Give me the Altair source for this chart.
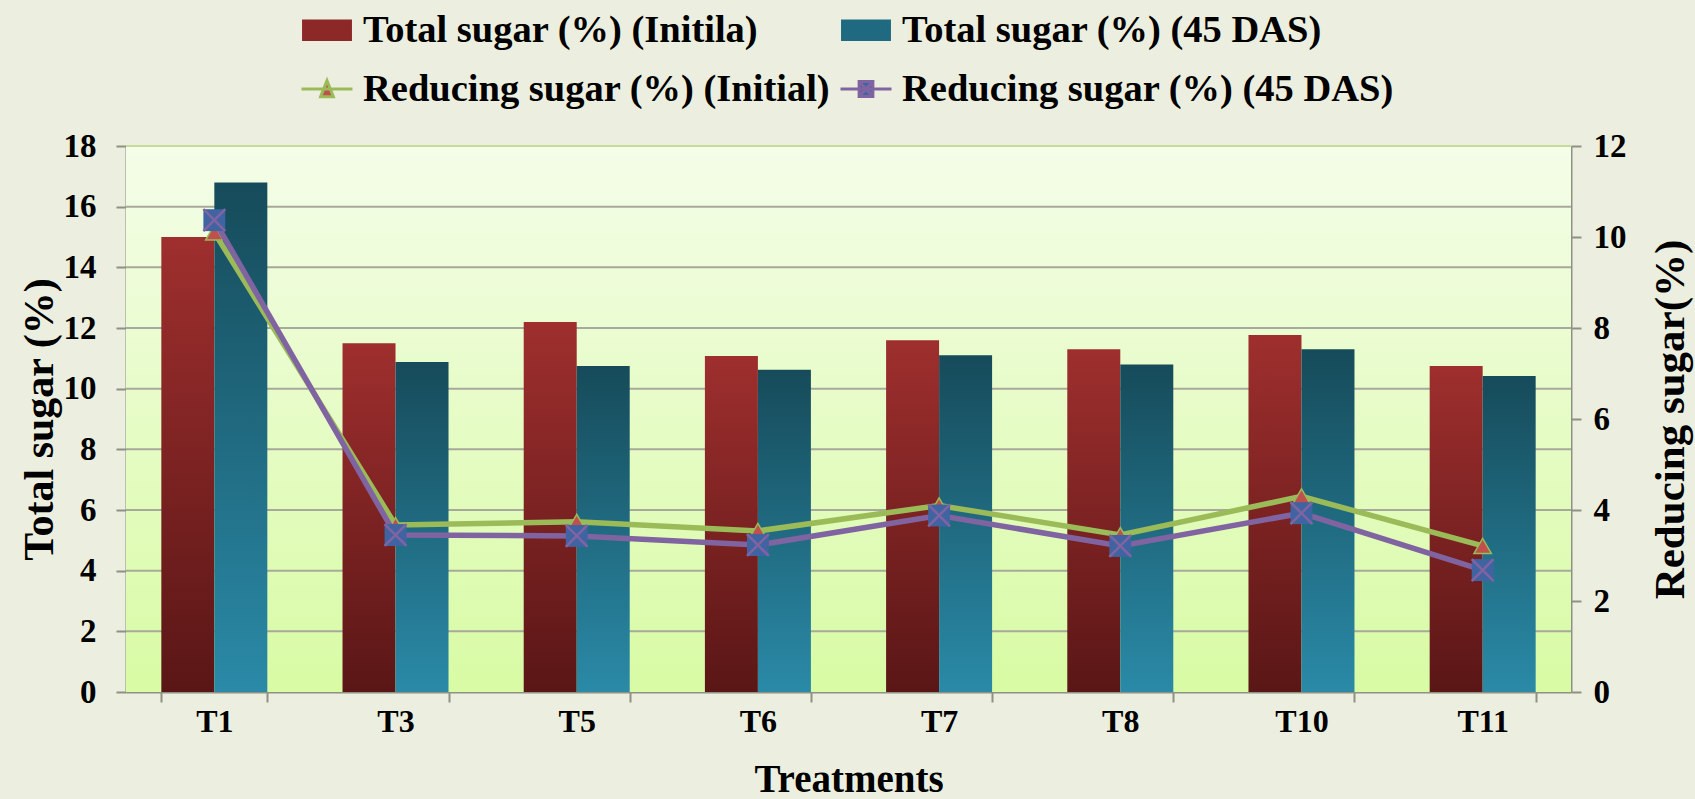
import altair as alt
import pandas as pd

# ---- data -------------------------------------------------------------
treatments = ["T1", "T3", "T5", "T6", "T7", "T8", "T10", "T11"]
total_initial = [15.0, 11.5, 12.2, 11.08, 11.6, 11.3, 11.77, 10.75]
total_45das = [16.8, 10.88, 10.75, 10.62, 11.1, 10.8, 11.3, 10.42]
reducing_initial = [10.1, 3.67, 3.74, 3.54, 4.1, 3.45, 4.3, 3.21]
reducing_45das = [10.37, 3.45, 3.43, 3.23, 3.88, 3.21, 3.93, 2.68]

total_names = ["Total sugar (%) (Initila)", "Total sugar (%) (45 DAS)"]
reducing_names = ["Reducing sugar (%) (Initial)", "Reducing sugar (%) (45 DAS)"]
# legend entries fill the two-column grid column by column
legend_order = [total_names[0], reducing_names[0], total_names[1], reducing_names[1]]
left_ticks = list(range(0, 19, 2))
right_ticks = list(range(0, 13, 2))

# ---- styling ----------------------------------------------------------
W, H = 1445, 546
FONT = "Liberation Serif"
AXIS_GREY = "#8E9183"
GRID_GREY = "#A7A99C"
GREEN = "#9BBB59"
PURPLE = "#8064A2"
TRI_RED = "#C0504D"
SQ_BLUE = "#4064A2"

red_grad = alt.Gradient(gradient="linear", x1=0, x2=0, y1=0, y2=1,
                        stops=[alt.GradientStop(offset=0, color="#9E2F2E"),
                               alt.GradientStop(offset=1, color="#5A1616")])
teal_grad = alt.Gradient(gradient="linear", x1=0, x2=0, y1=0, y2=1,
                         stops=[alt.GradientStop(offset=0, color="#164B5A"),
                                alt.GradientStop(offset=1, color="#2A8AA7")])
plot_grad = alt.Gradient(gradient="linear", x1=0, x2=0, y1=0, y2=1,
                         stops=[alt.GradientStop(offset=0, color="#F4FDE8"),
                                alt.GradientStop(offset=1, color="#D8FBA4")])

BAR_KEY = "M-0.92,-0.36H0.92V0.36H-0.92Z"
TRI_KEY = "M-1,0H1M-0.25,0.3L0,-0.33L0.25,0.3Z"
SQX_KEY = "M-1,0H1M-0.27,-0.29H0.27V0.29H-0.27ZM-0.27,-0.29L0.27,0.29M0.27,-0.29L-0.27,0.29"
legend_shapes = [BAR_KEY, TRI_KEY, BAR_KEY, SQX_KEY]
legend_fills = ["#8C2828", TRI_RED, "#1F6A80", SQ_BLUE]
legend_strokes = ["#8C2828", GREEN, "#1F6A80", PURPLE]

# ---- tables -----------------------------------------------------------
n = len(treatments)
bars_df = pd.DataFrame({
    "Treatment": treatments * 2,
    "Series": [total_names[0]] * n + [total_names[1]] * n,
    "Value": total_initial + total_45das,
})
reducing_df = pd.DataFrame({
    "Treatment": treatments * 2,
    "Series": [reducing_names[0]] * n + [reducing_names[1]] * n,
    "Value": reducing_initial + reducing_45das,
})
grid_df = pd.DataFrame({"Value": left_ticks[1:-1]})
top_df = pd.DataFrame({"Value": [left_ticks[-1]]})
legend_df = pd.DataFrame({"Series": legend_order})
bg_df = pd.DataFrame({"a": [0]})

# ---- axes -------------------------------------------------------------
axis_style = dict(
    domainColor=AXIS_GREY, domainWidth=2, tickColor=AXIS_GREY, tickWidth=2,
    tickSize=10, labelFont=FONT, labelFontWeight="bold",
    labelColor="black", titleFont=FONT, titleFontWeight="bold",
    titleColor="black", grid=False,
)
left_axis = alt.Axis(values=left_ticks, title="Total sugar (%)", orient="left",
                     labelFontSize=33, titleFontSize=42,
                     labelPadding=20, titlePadding=2, **axis_style)
right_axis = alt.Axis(values=right_ticks, title="Reducing sugar(%)", orient="right",
                      labelFontSize=33, titleFontSize=43, titleAngle=270,
                      labelPadding=12, titlePadding=66, **axis_style)
x_axis = alt.Axis(title="Treatments", labelAngle=0, tickBand="extent",
                  labelFontSize=32, titleFontSize=39,
                  labelPadding=4, titlePadding=23, **axis_style)

x_enc = alt.X("Treatment:N", sort=treatments,
              scale=alt.Scale(paddingInner=0.415, paddingOuter=0.195),
              axis=x_axis)
y_left = alt.Y("Value:Q", scale=alt.Scale(domain=[0, 18], nice=False), axis=left_axis)
y_right = alt.Y("Value:Q", scale=alt.Scale(domain=[0, 12], nice=False), axis=right_axis)

legend = alt.Legend(
    title=None, orient="none", legendX=174, legendY=-143, columns=2,
    symbolSize=2601, symbolStrokeWidth=3, symbolOpacity=1,
    labelFont=FONT, labelFontSize=38.5, labelFontWeight="bold", labelColor="black",
    labelOffset=9, labelLimit=2000, rowPadding=12, columnPadding=3, padding=0,
)

# ---- left-axis group: plot background, grid, bars, legend ------------
background = alt.Chart(bg_df).mark_rect(fill=plot_grad).encode(
    x=alt.value(0), x2=alt.value(W), y=alt.value(0), y2=alt.value(H)
)
grid = alt.Chart(grid_df).mark_rule(color=GRID_GREY, strokeWidth=2).encode(y=y_left)
top_edge = alt.Chart(top_df).mark_rule(color="#C6DA9E", strokeWidth=2).encode(y=y_left)

bars = alt.Chart(bars_df).mark_bar(strokeWidth=0).encode(
    x=x_enc,
    xOffset=alt.XOffset("Series:N", sort=total_names,
                        scale=alt.Scale(paddingInner=0, paddingOuter=0)),
    y=y_left,
    fill=alt.condition(alt.datum.Series == total_names[0],
                       alt.value(red_grad), alt.value(teal_grad)),
)

legend_keys = alt.Chart(legend_df).mark_point(opacity=0, filled=True).encode(
    shape=alt.Shape("Series:N", scale=alt.Scale(domain=legend_order, range=legend_shapes), legend=legend),
    fill=alt.Fill("Series:N", scale=alt.Scale(domain=legend_order, range=legend_fills), legend=legend),
    stroke=alt.Stroke("Series:N", scale=alt.Scale(domain=legend_order, range=legend_strokes), legend=legend),
)

left = alt.layer(background, grid, top_edge, bars, legend_keys)

# ---- right-axis group: reducing sugar lines and markers ---------------
base = alt.Chart(reducing_df)
x_line = alt.X("Treatment:N", sort=treatments)
initial = base.transform_filter(alt.datum.Series == reducing_names[0])
later = base.transform_filter(alt.datum.Series == reducing_names[1])

line_initial = initial.mark_line(color=GREEN, strokeWidth=5.5).encode(x=x_line, y=y_right)
tri_initial = initial.mark_point(
    shape="triangle-up", filled=True, fill=TRI_RED, stroke=GREEN, strokeWidth=1.5,
    size=300, opacity=1).encode(x=x_line, y=y_right)
line_45 = later.mark_line(color=PURPLE, strokeWidth=5.5).encode(x=x_line, y=y_right)
sq_45 = later.mark_point(
    shape="square", filled=True, fill=SQ_BLUE, size=480, opacity=1).encode(x=x_line, y=y_right)
x_45 = later.mark_point(
    shape="M-1,-1L1,1M1,-1L-1,1", filled=False, stroke=PURPLE, strokeWidth=2.5,
    size=480, opacity=1).encode(x=x_line, y=y_right)

right = alt.layer(line_initial, tri_initial, line_45, sq_45, x_45)

chart = (
    alt.layer(left, right)
    .resolve_scale(y="independent")
    .properties(
        width=W, height=H,
        padding={"left": 126, "top": 146, "right": 124, "bottom": 107},
        autosize=alt.AutoSizeParams(type="none"),
        background="#ECEFDF",
    )
    .configure_view(stroke=None)
)

chart.save("out.html", embed_options={"renderer": "svg", "actions": False})
